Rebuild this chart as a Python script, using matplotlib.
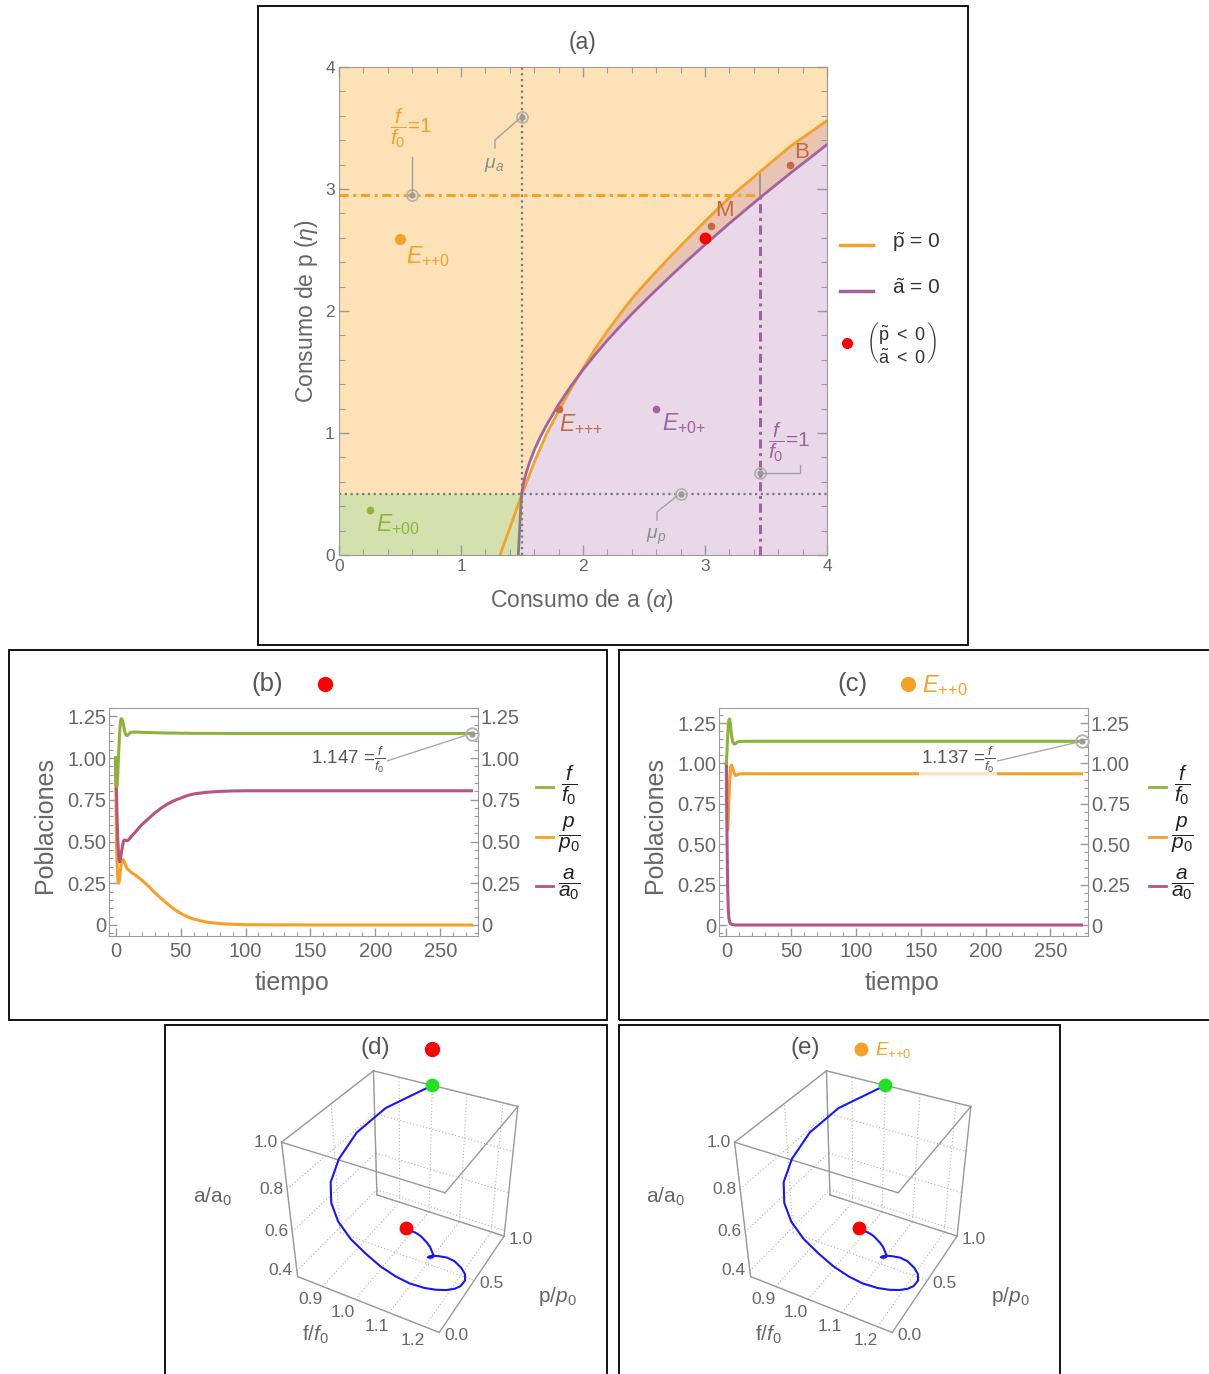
import numpy as np
import matplotlib
matplotlib.use("Agg")
import matplotlib.pyplot as plt
from matplotlib.patches import Rectangle, Polygon
from matplotlib.lines import Line2D
from matplotlib.ticker import MultipleLocator, FixedLocator, FixedFormatter
from mpl_toolkits.mplot3d import proj3d

plt.rcParams['font.family'] = ['Liberation Sans', 'DejaVu Sans']
plt.rcParams['mathtext.fontset'] = 'custom'
plt.rcParams['mathtext.rm'] = 'Liberation Sans'
plt.rcParams['mathtext.it'] = 'Liberation Sans:italic'
plt.rcParams['mathtext.bf'] = 'Liberation Sans:bold'

# ---------------- data ----------------
# (a) boundary curves in the (alpha, eta) plane
orange_alpha = [1.32, 1.36, 1.40, 1.45, 1.50, 1.60, 1.70, 1.80, 1.90, 2.00, 2.10, 2.20, 2.30, 2.40,
                2.55, 2.70, 2.85, 3.00, 3.20, 3.45, 3.70, 4.00]
orange_eta = [0.00, 0.11, 0.22, 0.36, 0.50, 0.76, 0.99, 1.18, 1.36, 1.53, 1.69, 1.835, 1.97, 2.10,
              2.27, 2.43, 2.585, 2.735, 2.93, 3.14, 3.35, 3.56]
purple_alpha = [1.47, 1.475, 1.48, 1.485, 1.49, 1.497, 1.51, 1.53, 1.56, 1.60, 1.65, 1.70, 1.80, 1.90,
                2.00, 2.10, 2.20, 2.30, 2.40, 2.55, 2.70, 2.85, 3.00, 3.20, 3.45, 3.70, 4.00]
purple_eta = [0.00, 0.10, 0.20, 0.30, 0.40, 0.50, 0.578, 0.658, 0.754, 0.858, 0.968, 1.063, 1.233, 1.383,
              1.518, 1.643, 1.76, 1.87, 1.975, 2.125, 2.269, 2.409, 2.544, 2.718, 2.928, 3.13, 3.364]

mu_a = 1.5            # vertical threshold in alpha
mu_p = 0.5            # horizontal threshold in eta
eta_f1 = 2.95         # f/f0 = 1 line (orange)
alpha_f1 = 3.45       # f/f0 = 1 line (purple)
eta_f1_top = 3.14     # where the purple f/f0 = 1 line meets the orange curve

# equilibrium markers (alpha, eta)
pt_E_pp0 = (0.50, 2.59)
pt_E_p00 = (0.25, 0.37)
pt_E_ppp = (1.80, 1.20)
pt_E_p0p = (2.60, 1.20)
pt_M = (3.05, 2.70)
pt_B = (3.70, 3.20)
pt_red = (3.00, 2.60)

# (b) time series (red point parameters)
t_b = [0, 0.25, 0.5, 0.75, 1.0, 1.25, 1.5, 1.75, 2.0, 2.25, 2.5, 2.75, 3.0, 3.25, 3.5, 3.75, 4.0, 4.5,
       5.0, 5.5, 6.0, 6.5, 7.0, 7.5, 8, 9, 10, 11, 12, 15, 20, 25, 30, 35, 40, 45, 50, 55,
       60, 70, 80, 90, 100, 120, 150, 200, 274]
f_b = [1.00, 0.91, 0.86, 0.835, 0.83, 0.845, 0.875, 0.92, 0.97, 1.015, 1.06, 1.10, 1.14, 1.17, 1.195,
       1.215, 1.228, 1.236, 1.232, 1.22, 1.20, 1.18, 1.16, 1.145, 1.137, 1.135, 1.142, 1.150, 1.155,
       1.156, 1.154, 1.153, 1.152, 1.151, 1.150, 1.150, 1.149, 1.149, 1.148, 1.148, 1.148, 1.147, 1.147,
       1.147, 1.147, 1.147, 1.147]
p_b = [1.00, 0.78, 0.62, 0.49, 0.40, 0.34, 0.30, 0.27, 0.255, 0.25, 0.252, 0.26, 0.275, 0.295, 0.315,
       0.335, 0.35, 0.37, 0.382, 0.388, 0.39, 0.385, 0.37, 0.36, 0.35, 0.337, 0.33, 0.322, 0.315,
       0.30, 0.27, 0.235, 0.195, 0.16, 0.125, 0.095, 0.07, 0.05, 0.035, 0.017, 0.008, 0.004, 0.002, 0.001,
       0.0, 0.0, 0.0]
a_b = [1.00, 0.93, 0.85, 0.76, 0.68, 0.61, 0.55, 0.50, 0.46, 0.425, 0.40, 0.385, 0.38, 0.38, 0.385,
       0.395, 0.41, 0.435, 0.46, 0.48, 0.50, 0.508, 0.51, 0.508, 0.505, 0.505, 0.51, 0.52, 0.53,
       0.555, 0.60, 0.635, 0.67, 0.70, 0.725, 0.745, 0.76, 0.775, 0.785, 0.795, 0.80, 0.803, 0.804, 0.804,
       0.804, 0.804, 0.804]
f_end_b = 1.147

# (c) time series (E++0 parameters)
t_c = [0, 0.5, 1, 1.5, 2, 2.5, 3, 3.5, 4, 5, 6, 7, 8, 10, 15, 30, 60, 100, 150, 200, 274]
f_c = [1.00, 1.08, 1.17, 1.24, 1.27, 1.275, 1.25, 1.21, 1.17, 1.13, 1.12, 1.122, 1.13, 1.136, 1.137,
       1.137, 1.137, 1.137, 1.137, 1.137, 1.137]
p_c = [1.00, 0.70, 0.59, 0.66, 0.78, 0.88, 0.95, 0.985, 0.99, 0.97, 0.94, 0.925, 0.928, 0.935, 0.936,
       0.936, 0.936, 0.936, 0.936, 0.936, 0.936]
a_c = [1.00, 0.54, 0.22, 0.09, 0.04, 0.02, 0.01, 0.006, 0.004, 0.002, 0.001, 0.0, 0.0, 0.0, 0.0,
       0.0, 0.0, 0.0, 0.0, 0.0, 0.0]
f_end_c = 1.137

ts_ticks = [0, 50, 100, 150, 200, 250]
pop_ticks = [0, 0.25, 0.50, 0.75, 1.00, 1.25]
pop_labels = ['0', '0.25', '0.50', '0.75', '1.00', '1.25']
a_axis_ticks = [0, 1, 2, 3, 4]

f3_ticks = [0.9, 1.0, 1.1, 1.2]
p3_ticks = [0.0, 0.5, 1.0]
a3_ticks = [0.4, 0.6, 0.8, 1.0]

# ---------------- colours ----------------
C_OR = '#F5A027'
C_PU = '#A062A0'
C_GR = '#8DB33A'
C_MA = '#B8557E'
C_BR = '#C4693E'
C_OR_FILL = '#FDE2B7'
C_PU_FILL = '#E8D8E8'
C_GR_FILL = '#D4E1AE'
C_BR_FILL = '#E9C4B2'
C_TXT = '#666666'
C_CALL = '#a0a0a0'

W, H = 1209, 1374
fig = plt.figure(figsize=(W / 100, H / 100), dpi=100)


def fx(x):
    return x / W


def fy(y):
    return 1 - y / H


def rect(l, t, r, b):
    return [l / W, 1 - b / H, (r - l) / W, (b - t) / H]


def fig_line(xs, ys, **kw):
    fig.add_artist(Line2D([fx(x) for x in xs], [fy(y) for y in ys], transform=fig.transFigure, **kw))


def fig_text(x, y, s, **kw):
    fig.text(fx(x), fy(y), s, **kw)


# panel frames
for (l, t, r, b) in [(258, 6, 968, 645), (9, 650, 607, 1020), (619, 650, 1215, 1020),
                     (165, 1025, 607, 1380), (619, 1025, 1060, 1380)]:
    fig.add_artist(Rectangle((fx(l), fy(b)), (r - l) / W, (b - t) / H, transform=fig.transFigure,
                             fill=False, ec='black', lw=1.3, zorder=0))

# ================= (a) =================
ax = fig.add_axes(rect(339, 67, 827, 555))
ax.set_xlim(0, 4)
ax.set_ylim(0, 4)
ax.add_patch(Rectangle((0, 0), 4, 4, fc=C_OR_FILL, ec='none', zorder=0))
orange_pts = list(zip(orange_alpha, orange_eta))
purple_pts = list(zip(purple_alpha, purple_eta))
brown_poly = [(a, e) for a, e in orange_pts if e >= mu_p] + [(4, mu_p)]
ax.add_patch(Polygon(brown_poly, closed=True, fc=C_BR_FILL, ec='none', zorder=0.5))
ax.add_patch(Polygon(purple_pts + [(4, 0)], closed=True, fc=C_PU_FILL, ec='none', zorder=0.6))
green_poly = [(0, 0), (0, mu_p)] + [(a, e) for a, e in purple_pts if e <= mu_p][::-1]
ax.add_patch(Polygon(green_poly, closed=True, fc=C_GR_FILL, ec='none', zorder=0.7))
sliver = ([(a, e) for a, e in purple_pts if 1.5 <= a <= 1.95]
          + [(a, e) for a, e in orange_pts if 1.5 <= a <= 1.95][::-1])
ax.add_patch(Polygon(sliver, closed=True, fc='white', ec='none', zorder=0.8))

# threshold lines
ax.plot([mu_a, mu_a], [0, 4], color='#7a7a7a', lw=1.6, ls=(0, (1, 1.6)), zorder=2)
ax.plot([0, 4], [mu_p, mu_p], color='#7a7a7a', lw=1.6, ls=(0, (1, 1.6)), zorder=2)
ax.plot([0, alpha_f1], [eta_f1, eta_f1], color=C_OR, lw=2.2, ls=(0, (3, 1.5, 1, 1.5)), zorder=2)
ax.plot([alpha_f1, alpha_f1], [0, eta_f1], color=C_PU, lw=2.2, ls=(0, (3, 1.5, 1, 1.5)), zorder=2)
ax.plot([alpha_f1, alpha_f1], [eta_f1, eta_f1_top], color='#909090', lw=1.2, zorder=2)

# boundary curves
ax.plot(orange_alpha, orange_eta, color=C_OR, lw=2.0, zorder=4)
pa = [a for a, e in purple_pts if e >= mu_p]
pe = [e for a, e in purple_pts if e >= mu_p]
ax.plot(pa, pe, color=C_PU, lw=2.0, zorder=4)
ga = [a for a, e in purple_pts if e <= mu_p]
ge = [e for a, e in purple_pts if e <= mu_p]
ax.plot(ga, ge, color='#8a7c78', lw=2.0, zorder=4)

# equilibrium points and labels
ax.plot(*pt_E_pp0, 'o', color=C_OR, ms=7, zorder=5)
ax.text(pt_E_pp0[0] + 0.05, pt_E_pp0[1] - 0.14, r'$E_{{+}{+}0}$', color=C_OR, fontsize=16.5, va='center', zorder=5)
ax.plot(*pt_E_p00, 'o', color=C_GR, ms=4.5, zorder=5)
ax.text(pt_E_p00[0] + 0.05, pt_E_p00[1] - 0.12, r'$E_{{+}00}$', color=C_GR, fontsize=16.5, va='center', zorder=5)
ax.plot(*pt_E_ppp, 'o', color=C_BR, ms=4.5, zorder=5)
ax.text(pt_E_ppp[0] + 0.0, pt_E_ppp[1] - 0.12, r'$E_{{+}{+}{+}}$', color=C_BR, fontsize=16.5, va='center', zorder=5)
ax.plot(*pt_E_p0p, 'o', color=C_PU, ms=4.5, zorder=5)
ax.text(pt_E_p0p[0] + 0.05, pt_E_p0p[1] - 0.12, r'$E_{{+}0{+}}$', color=C_PU, fontsize=16.5, va='center', zorder=5)
ax.plot(*pt_M, 'o', color=C_BR, ms=4.5, zorder=5)
ax.text(pt_M[0] + 0.03, pt_M[1] + 0.12, 'M', color=C_BR, fontsize=16, va='center', zorder=5)
ax.plot(*pt_B, 'o', color=C_BR, ms=4.5, zorder=5)
ax.text(pt_B[0] + 0.03, pt_B[1] + 0.1, 'B', color=C_BR, fontsize=16, va='center', zorder=5)
ax.plot(*pt_red, 'o', color='red', ms=7.5, zorder=6)

# callout circles
for (cx, cy) in [(0.60, eta_f1), (mu_a, 3.59), (2.80, mu_p), (alpha_f1, 0.67)]:
    ax.plot(cx, cy, 'o', mfc='none', mec='#b0b0b0', ms=8, mew=1.2, zorder=6)
    ax.plot(cx, cy, 'o', color='#9a9a9a', ms=3.5, zorder=6)

ax.xaxis.set_major_locator(FixedLocator(a_axis_ticks))
ax.yaxis.set_major_locator(FixedLocator(a_axis_ticks))
ax.xaxis.set_minor_locator(MultipleLocator(0.2))
ax.yaxis.set_minor_locator(MultipleLocator(0.2))
ax.tick_params(which='both', direction='in', top=True, right=True, colors='#9a9a9a',
               labelcolor=C_TXT, labelsize=12.5, pad=3)
ax.tick_params(which='major', length=7, width=1)
ax.tick_params(which='minor', length=4, width=0.8)
for s in ax.spines.values():
    s.set_color('#9a9a9a')
    s.set_zorder(7)

# callout leaders and labels in (a)
fig_line([412, 412], [157, 192], color=C_CALL, lw=1)
fig_text(390, 128, r'$\dfrac{f}{f_0}$=1', color=C_OR, fontsize=15, va='center', ha='left')
fig_line([495, 495, 519], [148, 140, 119], color=C_CALL, lw=1)
fig_text(494, 165, r'$\mu_a$', color='#8e8e8e', fontsize=14, va='center', ha='center')
fig_line([657, 657, 677], [520, 512, 496], color=C_CALL, lw=1)
fig_text(656, 537, r'$\mu_p$', color='#8e8e8e', fontsize=14, va='center', ha='center')
fig_line([762, 800, 800], [473, 473, 465], color=C_CALL, lw=1)
fig_text(768, 442, r'$\dfrac{f}{f_0}$=1', color=C_PU, fontsize=15, va='center', ha='left')

fig_text(582, 43, '(a)', color='#555555', fontsize=16.5, ha='center', va='center')
fig_text(582, 600, r'Consumo de a ($\alpha$)', color=C_TXT, fontsize=16.5, ha='center', va='center')
fig_text(306, 311, r'Consumo de p ($\eta$)', color=C_TXT, fontsize=16.5, ha='center', va='center', rotation=90)

# legend of (a)
fig_line([840, 873], [245, 245], color=C_OR, lw=2.5)
fig_text(892, 242, r'$\tilde{\mathrm{p}}$ = 0', color='#333333', fontsize=15, va='center')
fig_line([840, 873], [291, 291], color=C_PU, lw=2.5)
fig_text(892, 288, r'$\tilde{\mathrm{a}}$ = 0', color='#333333', fontsize=15, va='center')
fig.add_artist(Line2D([fx(847)], [fy(343)], marker='o', color='red', ms=7, transform=fig.transFigure))
fig_text(866, 343, r'$\left(\genfrac{}{}{0}{0}{\tilde{\mathrm{p}}\ <\ 0}{\tilde{\mathrm{a}}\ <\ 0}\right)$',
         color='#333333', fontsize=13, va='center')


# ================= (b), (c) =================
def series_panel(box_px, xl, yl, t, f, p, a, f_end, lab_xy, cx):
    axs = fig.add_axes(rect(*box_px))
    axs.plot(t, p, color=C_OR, lw=2.2, zorder=3)
    axs.plot(t, a, color=C_MA, lw=2.2, zorder=3)
    axs.plot(t, f, color=C_GR, lw=2.2, zorder=4)
    axs.set_xlim(*xl)
    axs.set_ylim(*yl)
    axs.plot(t[-1], f_end, 'o', mfc='none', mec='#b0b0b0', ms=9, mew=1.3, zorder=6, clip_on=False)
    axs.plot(t[-1], f_end, 'o', color='#9a9a9a', ms=3.5, zorder=6, clip_on=False)
    axs.annotate('%.3f =' % f_end + r'$\frac{f}{f_0}$', xy=(t[-1], f_end), xycoords='data',
                 xytext=(fx(lab_xy[0]), fy(lab_xy[1])), textcoords='figure fraction',
                 color='#555555', fontsize=13.5, ha='left', va='center', zorder=5,
                 bbox=dict(boxstyle='square,pad=0.1', fc='white', ec='none', alpha=0.7),
                 arrowprops=dict(arrowstyle='-', color='#aaaaaa', lw=1, shrinkA=0, shrinkB=4,
                                 relpos=(1.0, 0.45)))
    axs.xaxis.set_major_locator(FixedLocator(ts_ticks))
    axs.xaxis.set_minor_locator(MultipleLocator(10))
    axs.yaxis.set_major_locator(FixedLocator(pop_ticks))
    axs.yaxis.set_major_formatter(FixedFormatter(pop_labels))
    axs.yaxis.set_minor_locator(MultipleLocator(0.05))
    axs.tick_params(which='both', direction='in', left=True, right=True, top=False, labelright=True,
                    colors='#9a9a9a', labelcolor=C_TXT, labelsize=14.5)
    axs.tick_params(axis='y', which='both', pad=2)
    axs.tick_params(axis='x', which='both', pad=4)
    axs.tick_params(which='major', length=6, width=1)
    axs.tick_params(which='minor', length=3, width=0.8)
    for s in axs.spines.values():
        s.set_color('#9a9a9a')
    # legend
    for yy, col, lab in [(787, C_GR, r'$\dfrac{f}{f_0}$'), (837, C_OR, r'$\dfrac{p}{p_0}$'),
                         (886, C_MA, r'$\dfrac{a}{a_0}$')]:
        fig_line([cx - 33, cx - 16], [yy, yy], color=col, lw=2)
        fig_text(cx, yy - 2, lab, color='#222222', fontsize=15, ha='center', va='center')
    return axs


series_panel((109, 708, 478, 936), (-5.1, 279), (-0.066, 1.30), t_b, f_b, p_b, a_b, f_end_b, (311, 760), 569)
series_panel((719, 708, 1088, 936), (-5.7, 279), (-0.068, 1.343), t_c, f_c, p_c, a_c, f_end_c, (921, 760), 1182)

for xc in (45, 655):
    fig_text(xc, 825, 'Poblaciones', color=C_TXT, fontsize=18, rotation=90, ha='center', va='center')
for xc in (292, 902):
    fig_text(xc, 983, 'tiempo', color=C_TXT, fontsize=18, ha='center', va='center')

fig_text(267, 684, '(b)', color='#555555', fontsize=18.5, ha='center', va='center')
fig.add_artist(Line2D([fx(325)], [fy(684)], marker='o', color='red', ms=10, transform=fig.transFigure))
fig_text(852, 684, '(c)', color='#555555', fontsize=18.5, ha='center', va='center')
fig.add_artist(Line2D([fx(908)], [fy(684)], marker='o', color=C_OR, ms=10, transform=fig.transFigure))
fig_text(922, 686, r'$E_{{+}{+}0}$', color=C_OR, fontsize=17, ha='left', va='center')


# ================= (d), (e) =================
def phase_panel(box_px):
    a3 = fig.add_axes(rect(*box_px), projection='3d')
    a3.set_proj_type('persp', focal_length=0.4)
    a3.view_init(elev=36, azim=-61.6)
    a3.set_facecolor('none')
    a3.set_xlim(0.82, 1.24)
    a3.set_ylim(0.0, 1.0)
    a3.set_zlim(0.37, 1.0)
    a3.set_box_aspect((1, 1, 1), zoom=0.83)
    a3.grid(False)
    for axis in (a3.xaxis, a3.yaxis, a3.zaxis):
        axis.set_pane_color((1, 1, 1, 0))
        axis.pane.set_edgecolor('none')
        axis.line.set_visible(False)
    a3.set_xticks([])
    a3.set_yticks([])
    a3.set_zticks([])
    x0, x1 = a3.get_xlim()
    y0, y1 = a3.get_ylim()
    z0, z1 = a3.get_zlim()
    # dotted face grids on the three back faces
    gkw = dict(color='#b0b0b0', lw=0.8, ls=(0, (1, 2)))
    for v in f3_ticks:
        a3.plot([v, v], [y0, y1], [z0, z0], **gkw)
        a3.plot([v, v], [y1, y1], [z0, z1], **gkw)
    for v in p3_ticks:
        a3.plot([x0, x1], [v, v], [z0, z0], **gkw)
        a3.plot([x0, x0], [v, v], [z0, z1], **gkw)
    for v in a3_ticks:
        a3.plot([x0, x1], [y1, y1], [v, v], **gkw)
        a3.plot([x0, x0], [y0, y1], [v, v], **gkw)
    V = {'LT': (x0, y0, z1), 'BT': (x0, y1, z1), 'RT': (x1, y1, z1), 'FT': (x1, y0, z1),
         'LB': (x0, y0, z0), 'BB': (x0, y1, z0), 'RB': (x1, y1, z0), 'FB': (x1, y0, z0)}
    for u, v in [('LT', 'BT'), ('BT', 'RT'), ('LT', 'FT'), ('FT', 'RT'), ('LT', 'LB'), ('BT', 'BB'),
                 ('RT', 'RB'), ('LB', 'FB'), ('FB', 'RB'), ('BB', 'RB')]:
        a3.plot(*zip(V[u], V[v]), color='#999999', lw=1)
    a3.plot(f_b, p_b, a_b, color='#1515FF', lw=1.5)
    a3.scatter([f_b[0]], [p_b[0]], [a_b[0]], s=80, color='#22E022', depthshade=False)
    a3.scatter([f_b[-1]], [p_b[-1]], [a_b[-1]], s=80, color='red', depthshade=False)
    return a3


phase_axes = [phase_panel((190, 1034, 610, 1363)), phase_panel((643, 1034, 1063, 1363))]

# tick labels beside the front edges of each box, placed at the projected edge positions
fig.canvas.draw()


def label_at(a3, x, y, z, s, dx, dy, **kw):
    xs, ys, _ = proj3d.proj_transform(x, y, z, a3.M)
    px, py = a3.transData.transform((xs, ys))
    fig.text((px + dx) / W, (py + dy) / H, s, color=C_TXT, fontsize=12.5, **kw)


for a3 in phase_axes:
    x0, x1 = a3.get_xlim()
    y0, y1 = a3.get_ylim()
    z0, z1 = a3.get_zlim()
    for v in a3_ticks:
        label_at(a3, x0, y0, v, '%.1f' % v, -4, 0, ha='right', va='center')
    for v in f3_ticks:
        label_at(a3, v, y0, z0, '%.1f' % v, 0, -6, ha='right', va='top')
    for v in p3_ticks:
        label_at(a3, x1, v, z0, '%.1f' % v, 5, -3, ha='left', va='center')

for dx in (0, 453):
    fig_text(212 + dx, 1197, r'a/$\mathrm{a}_0$', color=C_TXT, fontsize=15, ha='center', va='center')
    fig_text(316 + dx, 1335, r'f/$f_0$', color=C_TXT, fontsize=15, ha='center', va='center')
    fig_text(557 + dx, 1296, r'p/$p_0$', color=C_TXT, fontsize=15, ha='center', va='center')

fig_text(375, 1048, '(d)', color='#555555', fontsize=17.5, ha='center', va='center')
fig.add_artist(Line2D([fx(432)], [fy(1049)], marker='o', color='red', ms=10, transform=fig.transFigure))
fig_text(805, 1048, '(e)', color='#555555', fontsize=17.5, ha='center', va='center')
fig.add_artist(Line2D([fx(861)], [fy(1049)], marker='o', color=C_OR, ms=9, transform=fig.transFigure))
fig_text(875, 1050, r'$E_{{+}{+}0}$', color=C_OR, fontsize=13.5, ha='left', va='center')

fig.savefig('out.png', dpi=100, facecolor='white')
